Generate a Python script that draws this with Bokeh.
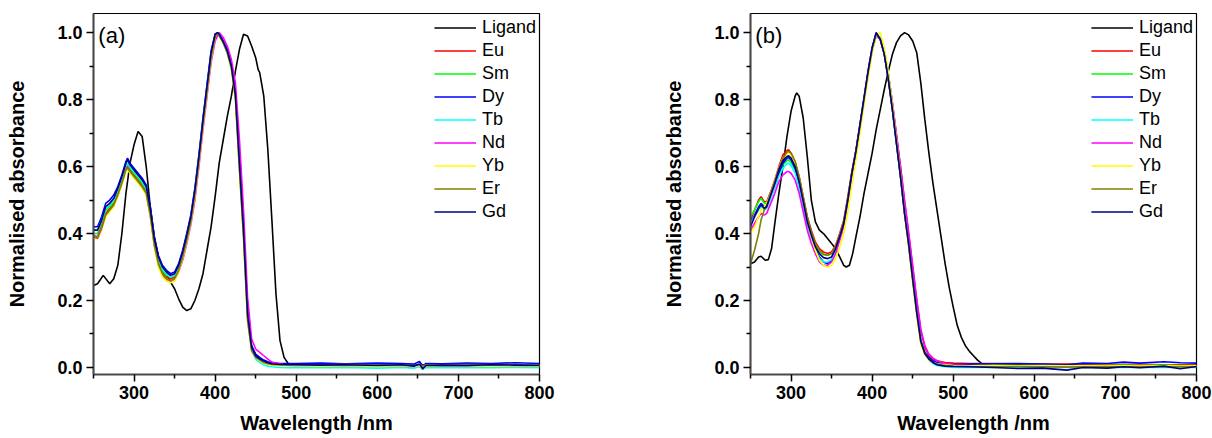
from bokeh.plotting import figure
from bokeh.layouts import row
from bokeh.models import (Range1d, FixedTicker, PrintfTickFormatter,
                          Legend, LegendItem, Label)
from bokeh.embed import file_html
from bokeh.resources import INLINE

# ---------------- data ----------------
series_names = ["Ligand", "Eu", "Sm", "Dy", "Tb", "Nd", "Yb", "Er", "Gd"]
series_colors = ["#000000", "#FF0000", "#00FF00", "#0000FF", "#00FFFF",
                 "#FF00FF", "#FFFF00", "#808000", "#000080"]

x_major = [300, 400, 500, 600, 700, 800]
x_minor = [250, 350, 450, 550, 650, 750]
y_major = [0.0, 0.2, 0.4, 0.6, 0.8, 1.0]
y_minor = [0.1, 0.3, 0.5, 0.7, 0.9]

# ----- panel (a) -----
lig_wl_a = [250, 255, 262, 270, 275, 280, 285, 290, 295, 300, 305, 310, 315, 320, 325, 330, 335, 340, 345, 350,
            355, 360, 365, 370, 375, 380, 385, 390, 395, 400, 405, 410, 415, 420, 425, 430, 435, 440, 445, 450,
            453, 455, 460, 465, 470, 475, 480, 485, 490, 500, 550, 600, 650, 700, 750, 800]
lig_a = [0.245, 0.25, 0.275, 0.25, 0.265, 0.305, 0.40, 0.52, 0.61, 0.665, 0.705, 0.69, 0.60, 0.48, 0.39, 0.33, 0.30, 0.28, 0.255, 0.235,
         0.205, 0.18, 0.17, 0.175, 0.20, 0.235, 0.28, 0.35, 0.42, 0.51, 0.61, 0.68, 0.75, 0.81, 0.885, 0.95, 0.995, 0.99, 0.96, 0.925,
         0.89, 0.88, 0.81, 0.65, 0.44, 0.22, 0.08, 0.03, 0.012, 0.008, 0.007, 0.007, 0.007, 0.007, 0.007, 0.007]

wl_a = [250, 255, 260, 265, 270, 275, 280, 285, 290, 292, 295, 300, 305, 310, 315, 320, 325, 330, 335, 340,
        345, 350, 355, 360, 365, 370, 375, 380, 385, 390, 395, 400, 403, 405, 410, 415, 420, 425, 430, 435,
        440, 445, 450, 455, 460, 465, 470, 480, 490, 500, 530, 560, 600, 630, 645, 652, 656, 660, 680, 710,
        740, 770, 800]
eu_a = [0.385, 0.39, 0.42, 0.46, 0.475, 0.49, 0.52, 0.555, 0.595, 0.60, 0.59, 0.575, 0.56, 0.545, 0.525, 0.46, 0.37, 0.315, 0.285, 0.27,
        0.265, 0.27, 0.295, 0.335, 0.385, 0.44, 0.52, 0.62, 0.73, 0.83, 0.93, 0.99, 1.0, 0.995, 0.975, 0.945, 0.90, 0.82, 0.61, 0.41,
        0.16, 0.06, 0.036, 0.026, 0.019, 0.014, 0.011, 0.008, 0.007, 0.007, 0.006, 0.007, 0.006, 0.006, 0.005, 0.006, -0.006, 0.005, 0.006, 0.006,
        0.005, 0.006, 0.006]
sm_a = [0.40, 0.40, 0.43, 0.47, 0.48, 0.495, 0.525, 0.56, 0.60, 0.605, 0.595, 0.58, 0.565, 0.55, 0.53, 0.465, 0.375, 0.32, 0.29, 0.275,
        0.27, 0.275, 0.30, 0.34, 0.39, 0.445, 0.525, 0.625, 0.735, 0.835, 0.935, 0.99, 1.0, 0.993, 0.97, 0.94, 0.895, 0.81, 0.60, 0.40,
        0.15, 0.055, 0.033, 0.024, 0.017, 0.012, 0.01, 0.008, 0.007, 0.007, 0.006, 0.007, 0.006, 0.007, 0.005, 0.008, 0.003, 0.006, 0.006, 0.007,
        0.006, 0.007, 0.006]
dy_a = [0.42, 0.42, 0.45, 0.49, 0.50, 0.515, 0.54, 0.575, 0.615, 0.625, 0.61, 0.595, 0.58, 0.565, 0.545, 0.48, 0.39, 0.335, 0.305, 0.29,
        0.28, 0.285, 0.31, 0.35, 0.40, 0.455, 0.535, 0.635, 0.745, 0.845, 0.945, 0.995, 1.0, 0.995, 0.975, 0.95, 0.905, 0.82, 0.62, 0.42,
        0.17, 0.065, 0.04, 0.03, 0.022, 0.017, 0.014, 0.012, 0.012, 0.012, 0.013, 0.011, 0.013, 0.012, 0.01, 0.018, 0.005, 0.012, 0.011, 0.013,
        0.012, 0.014, 0.012]
tb_a = [0.41, 0.41, 0.44, 0.475, 0.485, 0.50, 0.53, 0.565, 0.605, 0.61, 0.60, 0.585, 0.57, 0.555, 0.535, 0.47, 0.38, 0.325, 0.295, 0.28,
        0.27, 0.275, 0.30, 0.34, 0.39, 0.445, 0.525, 0.625, 0.735, 0.835, 0.935, 0.99, 1.0, 0.993, 0.97, 0.94, 0.895, 0.81, 0.60, 0.40,
        0.15, 0.05, 0.025, 0.015, 0.008, 0.004, 0.002, 0.0, -0.001, 0.0, -0.001, 0.0, -0.002, 0.0, -0.002, 0.002, -0.005, 0.0, -0.001, 0.0,
        -0.001, 0.0, -0.001]
nd_a = [0.395, 0.39, 0.42, 0.455, 0.47, 0.485, 0.515, 0.55, 0.59, 0.60, 0.585, 0.57, 0.555, 0.54, 0.52, 0.455, 0.365, 0.305, 0.275, 0.26,
        0.255, 0.26, 0.285, 0.32, 0.37, 0.425, 0.50, 0.60, 0.71, 0.81, 0.91, 0.975, 0.99, 1.0, 0.985, 0.96, 0.92, 0.85, 0.68, 0.47,
        0.21, 0.085, 0.055, 0.045, 0.035, 0.025, 0.016, 0.01, 0.006, 0.005, 0.005, 0.004, 0.005, 0.004, 0.003, 0.005, 0.0, 0.004, 0.005, 0.004,
        0.005, 0.004, 0.005]
yb_a = [0.385, 0.385, 0.41, 0.45, 0.465, 0.48, 0.51, 0.545, 0.585, 0.59, 0.58, 0.565, 0.55, 0.535, 0.515, 0.45, 0.36, 0.30, 0.27, 0.258,
        0.253, 0.258, 0.285, 0.325, 0.375, 0.43, 0.51, 0.61, 0.72, 0.82, 0.92, 0.985, 1.0, 0.99, 0.968, 0.94, 0.89, 0.80, 0.585, 0.385,
        0.14, 0.05, 0.03, 0.02, 0.013, 0.009, 0.007, 0.005, 0.005, 0.005, 0.004, 0.005, 0.004, 0.005, 0.003, 0.005, 0.0, 0.004, 0.005, 0.005,
        0.004, 0.005, 0.004]
er_a = [0.39, 0.385, 0.415, 0.455, 0.47, 0.485, 0.515, 0.55, 0.59, 0.595, 0.585, 0.57, 0.555, 0.54, 0.52, 0.455, 0.365, 0.31, 0.28, 0.265,
        0.26, 0.265, 0.29, 0.33, 0.38, 0.435, 0.515, 0.615, 0.725, 0.825, 0.925, 0.985, 1.0, 0.99, 0.97, 0.94, 0.895, 0.805, 0.59, 0.39,
        0.14, 0.05, 0.03, 0.022, 0.015, 0.011, 0.009, 0.008, 0.008, 0.008, 0.008, 0.009, 0.008, 0.008, 0.006, 0.009, 0.004, 0.008, 0.008, 0.009,
        0.008, 0.009, 0.008]
gd_a = [0.41, 0.41, 0.44, 0.48, 0.49, 0.505, 0.535, 0.57, 0.61, 0.62, 0.605, 0.59, 0.575, 0.56, 0.54, 0.475, 0.385, 0.33, 0.30, 0.285,
        0.275, 0.28, 0.305, 0.345, 0.395, 0.45, 0.53, 0.63, 0.74, 0.84, 0.94, 0.995, 1.0, 0.995, 0.972, 0.945, 0.90, 0.815, 0.61, 0.41,
        0.16, 0.06, 0.035, 0.026, 0.019, 0.014, 0.011, 0.009, 0.008, 0.008, 0.007, 0.008, 0.006, 0.008, 0.004, 0.01, -0.004, 0.006, 0.007, 0.006,
        0.008, 0.007, 0.006]

# ----- panel (b) -----
lig_wl_b = [250, 255, 260, 263, 268, 272, 276, 280, 285, 290, 295, 300, 305, 307, 310, 315, 320, 325, 330, 335,
            340, 345, 350, 355, 360, 365, 368, 372, 376, 380, 385, 390, 395, 400, 405, 410, 415, 420, 425, 430,
            435, 440, 445, 450, 455, 460, 465, 470, 475, 480, 485, 490, 495, 500, 505, 510, 515, 520, 525, 530,
            535, 540, 600, 700, 800]
lig_b = [0.31, 0.315, 0.33, 0.332, 0.32, 0.322, 0.355, 0.43, 0.52, 0.60, 0.69, 0.765, 0.81, 0.82, 0.81, 0.745, 0.63, 0.50, 0.435, 0.41,
         0.40, 0.385, 0.37, 0.355, 0.33, 0.305, 0.30, 0.305, 0.34, 0.39, 0.45, 0.52, 0.58, 0.64, 0.71, 0.77, 0.83, 0.885, 0.935, 0.97,
         0.99, 1.0, 0.993, 0.975, 0.94, 0.85, 0.74, 0.64, 0.55, 0.47, 0.39, 0.31, 0.24, 0.18, 0.125, 0.09, 0.065, 0.048, 0.035, 0.022,
         0.012, 0.009, 0.007, 0.006, 0.006]

wl_b = [250, 255, 260, 263, 267, 270, 275, 280, 285, 290, 295, 297, 300, 305, 310, 315, 320, 325, 330, 335,
        340, 345, 350, 355, 360, 365, 370, 375, 380, 385, 390, 395, 400, 405, 410, 415, 420, 425, 430, 435,
        440, 445, 450, 455, 460, 465, 470, 475, 480, 490, 500, 520, 550, 580, 610, 640, 660, 690, 710, 730,
        760, 780, 800]
eu_b = [0.44, 0.47, 0.50, 0.51, 0.495, 0.495, 0.525, 0.56, 0.60, 0.635, 0.648, 0.65, 0.64, 0.615, 0.57, 0.51, 0.45, 0.41, 0.375, 0.355,
        0.345, 0.34, 0.345, 0.365, 0.40, 0.44, 0.51, 0.585, 0.65, 0.725, 0.80, 0.88, 0.95, 0.995, 0.985, 0.945, 0.875, 0.79, 0.695, 0.60,
        0.495, 0.40, 0.30, 0.20, 0.11, 0.06, 0.035, 0.025, 0.02, 0.015, 0.013, 0.012, 0.012, 0.011, 0.01, 0.01, 0.01, 0.009, 0.009, 0.009,
        0.008, 0.008, 0.008]
sm_b = [0.45, 0.47, 0.495, 0.505, 0.49, 0.49, 0.515, 0.545, 0.58, 0.605, 0.618, 0.62, 0.612, 0.59, 0.545, 0.49, 0.435, 0.395, 0.365, 0.345,
        0.337, 0.335, 0.34, 0.36, 0.395, 0.435, 0.505, 0.58, 0.645, 0.72, 0.80, 0.88, 0.95, 0.995, 0.98, 0.935, 0.86, 0.77, 0.67, 0.57,
        0.46, 0.37, 0.265, 0.165, 0.08, 0.045, 0.028, 0.018, 0.013, 0.009, 0.007, 0.006, 0.007, 0.006, 0.006, 0.005, 0.006, 0.006, 0.007, 0.006,
        0.007, 0.006, 0.006]
dy_b = [0.43, 0.455, 0.48, 0.49, 0.48, 0.485, 0.515, 0.545, 0.58, 0.61, 0.625, 0.627, 0.62, 0.595, 0.55, 0.49, 0.43, 0.39, 0.355, 0.33,
        0.315, 0.31, 0.32, 0.345, 0.39, 0.43, 0.50, 0.58, 0.645, 0.725, 0.805, 0.885, 0.955, 1.0, 0.98, 0.935, 0.86, 0.77, 0.67, 0.57,
        0.46, 0.37, 0.265, 0.165, 0.08, 0.045, 0.03, 0.02, 0.015, 0.01, 0.009, 0.01, 0.011, 0.012, 0.01, 0.008, 0.013, 0.012, 0.016, 0.013,
        0.017, 0.014, 0.013]
tb_b = [0.43, 0.45, 0.47, 0.48, 0.47, 0.475, 0.505, 0.535, 0.57, 0.595, 0.608, 0.61, 0.603, 0.58, 0.535, 0.48, 0.425, 0.385, 0.35, 0.325,
        0.315, 0.315, 0.322, 0.345, 0.385, 0.425, 0.495, 0.575, 0.64, 0.72, 0.80, 0.88, 0.95, 0.995, 0.985, 0.945, 0.875, 0.785, 0.685, 0.585,
        0.475, 0.38, 0.275, 0.17, 0.08, 0.04, 0.022, 0.012, 0.006, 0.002, 0.0, 0.001, 0.0, 0.001, 0.0, 0.0, 0.001, 0.0, 0.001, 0.0,
        0.001, 0.0, 0.0]
nd_b = [0.41, 0.43, 0.45, 0.46, 0.455, 0.46, 0.49, 0.52, 0.555, 0.575, 0.585, 0.585, 0.58, 0.56, 0.52, 0.465, 0.41, 0.37, 0.34, 0.315,
        0.305, 0.305, 0.315, 0.34, 0.38, 0.42, 0.49, 0.57, 0.635, 0.715, 0.795, 0.875, 0.945, 0.99, 0.98, 0.94, 0.875, 0.79, 0.695, 0.60,
        0.50, 0.405, 0.305, 0.205, 0.115, 0.065, 0.04, 0.028, 0.02, 0.012, 0.008, 0.006, 0.005, 0.005, 0.004, 0.004, 0.005, 0.004, 0.005, 0.004,
        0.004, 0.005, 0.004]
yb_b = [0.40, 0.42, 0.45, 0.47, 0.48, 0.49, 0.52, 0.555, 0.595, 0.625, 0.638, 0.64, 0.635, 0.61, 0.565, 0.50, 0.44, 0.39, 0.35, 0.32,
        0.305, 0.30, 0.305, 0.325, 0.36, 0.40, 0.465, 0.545, 0.62, 0.70, 0.785, 0.865, 0.94, 0.99, 1.0, 0.955, 0.88, 0.785, 0.68, 0.575,
        0.46, 0.36, 0.255, 0.155, 0.07, 0.038, 0.022, 0.015, 0.011, 0.008, 0.006, 0.005, 0.006, 0.005, 0.006, 0.005, 0.005, 0.006, 0.005, 0.006,
        0.005, 0.005, 0.005]
er_b = [0.31, 0.35, 0.40, 0.44, 0.47, 0.485, 0.52, 0.555, 0.595, 0.625, 0.643, 0.645, 0.64, 0.615, 0.57, 0.51, 0.45, 0.405, 0.37, 0.35,
        0.338, 0.335, 0.34, 0.36, 0.395, 0.435, 0.505, 0.58, 0.645, 0.72, 0.80, 0.88, 0.95, 0.995, 0.98, 0.935, 0.86, 0.77, 0.67, 0.57,
        0.46, 0.365, 0.26, 0.16, 0.075, 0.04, 0.025, 0.015, 0.01, 0.006, 0.004, 0.003, 0.002, 0.003, 0.002, 0.001, 0.002, 0.003, 0.002, 0.003,
        0.002, 0.003, 0.002]
gd_b = [0.42, 0.45, 0.475, 0.485, 0.475, 0.48, 0.515, 0.55, 0.59, 0.618, 0.63, 0.632, 0.625, 0.6, 0.555, 0.495, 0.435, 0.395, 0.36, 0.34,
        0.328, 0.325, 0.33, 0.355, 0.39, 0.43, 0.50, 0.58, 0.645, 0.725, 0.805, 0.885, 0.955, 1.0, 0.98, 0.935, 0.86, 0.77, 0.67, 0.57,
        0.46, 0.37, 0.265, 0.165, 0.08, 0.042, 0.025, 0.015, 0.008, 0.004, 0.003, 0.002, 0.0, -0.003, -0.002, -0.008, 0.0, -0.002, 0.002, -0.001,
        0.004, -0.004, 0.003]

FONT = "Liberation Sans"


def make_panel(tag, lig_wl, lig, wl, complexes, border_left, border_right):
    p = figure(width=606, height=438, output_backend="svg", toolbar_location=None,
               x_range=Range1d(250, 800), y_range=Range1d(-0.021, 1.057),
               min_border_left=border_left, min_border_right=border_right,
               min_border_top=13, min_border_bottom=64,
               background_fill_color="white", border_fill_color="white")
    p.xgrid.grid_line_color = None
    p.ygrid.grid_line_color = None
    p.outline_line_color = "black"
    p.outline_line_width = 1.2

    renderers = []
    r = p.line(lig_wl, lig, line_color=series_colors[0], line_width=1.6)
    renderers.append(r)
    for i, ys in enumerate(complexes):
        r = p.line(wl, ys, line_color=series_colors[i + 1], line_width=1.6)
        renderers.append(r)

    xa = p.xaxis[0]
    xa.ticker = FixedTicker(ticks=x_major, minor_ticks=x_minor)
    xa.axis_label = "Wavelength /nm"
    ya = p.yaxis[0]
    ya.ticker = FixedTicker(ticks=y_major, minor_ticks=y_minor)
    ya.formatter = PrintfTickFormatter(format="%.1f")
    ya.axis_label = "Normalised absorbance"
    for ax in (xa, ya):
        ax.axis_line_color = "#4a4a4a"
        ax.axis_line_width = 2
        ax.major_tick_line_color = "black"
        ax.major_tick_line_width = 1.5
        ax.minor_tick_line_color = "black"
        ax.minor_tick_line_width = 1.5
        ax.major_tick_out = 7
        ax.major_tick_in = 0
        ax.minor_tick_out = 4
        ax.minor_tick_in = 0
        ax.major_label_text_font = FONT
        ax.major_label_text_font_style = "bold"
        ax.major_label_text_font_size = "18px"
        ax.major_label_text_color = "black"
        ax.axis_label_text_font = FONT
        ax.axis_label_text_font_style = "bold"
        ax.axis_label_text_font_size = "20px"
        ax.axis_label_text_color = "black"
    xa.major_label_standoff = 4
    xa.axis_label_standoff = 10
    ya.major_label_standoff = 4
    ya.axis_label_standoff = 26

    legend = Legend(items=[LegendItem(label=n, renderers=[rr]) for n, rr in zip(series_names, renderers)],
                    location="top_right", margin=3, padding=0, spacing=0,
                    glyph_width=42, glyph_height=23, label_height=23, label_standoff=6,
                    label_text_font=FONT, label_text_font_size="18px", label_text_color="black",
                    border_line_alpha=0, background_fill_alpha=0)
    p.add_layout(legend, "center")

    p.add_layout(Label(x=256, y=0.99, text=tag, text_font=FONT, text_font_size="22px",
                       text_baseline="middle", text_align="left", text_color="black"))
    return p


pa = make_panel("(a)", lig_wl_a, lig_a, wl_a,
                [eu_a, sm_a, dy_a, tb_a, nd_a, yb_a, er_a, gd_a], 93, 67)
pb = make_panel("(b)", lig_wl_b, lig_b, wl_b,
                [eu_b, sm_b, dy_b, tb_b, nd_b, yb_b, er_b, gd_b], 144, 16)

layout = row(pa, pb)
open("out.html", "w").write(file_html(layout, INLINE))
